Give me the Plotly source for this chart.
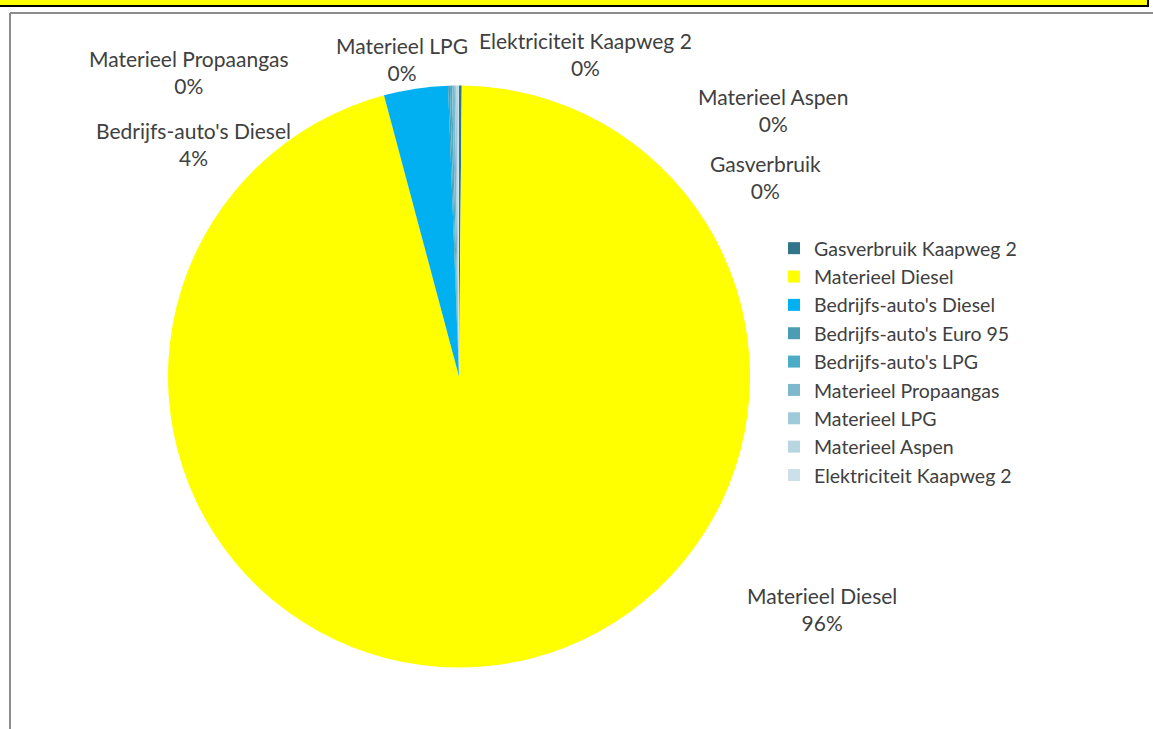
import plotly.graph_objects as go

# ---- data ----
categories = [
    "Gasverbruik Kaapweg 2",
    "Materieel Diesel",
    "Bedrijfs-auto's Diesel",
    "Bedrijfs-auto's Euro 95",
    "Bedrijfs-auto's LPG",
    "Materieel Propaangas",
    "Materieel LPG",
    "Materieel Aspen",
    "Elektriciteit Kaapweg 2",
]
values = [0.15, 95.70, 3.55, 0.10, 0.12, 0.15, 0.10, 0.07, 0.06]
colors = ["#31758A", "#FFFF00", "#00B0F0", "#4A9DB2", "#4BACC6",
          "#7DB8CE", "#9FCADA", "#B7D6E2", "#CCE0EA"]

# data label text shown next to the pie (Excel-style label), None = hidden
label_names = ["Gasverbruik", "Materieel Diesel", "Bedrijfs-auto's Diesel", None, None,
               "Materieel Propaangas", "Materieel LPG", "Materieel Aspen",
               "Elektriciteit Kaapweg 2"]

# label centres in pixels (x, y of first line)
label_pos = [(765, 163), (822, 595), (193, 131), None, None,
             (189, 58), (402, 45), (773, 96), (585, 41)]

W, H = 1153, 729
TXT = "#404040"
FONT = "Lato"

total = sum(values)

fig = go.Figure()
cx, cy, r = 459, 376.5, 291
fig.add_trace(go.Pie(
    labels=categories,
    values=values,
    sort=False,
    direction="clockwise",
    rotation=0,
    marker=dict(colors=colors, line=dict(width=0)),
    textinfo="none",
    hoverinfo="label+percent",
    domain=dict(x=[(cx - r) / W, (cx + r) / W], y=[(H - cy - r) / H, (H - cy + r) / H]),
    showlegend=True,
))

annotations = []
for name, v, pos in zip(label_names, values, label_pos):
    if name is None:
        continue
    pct = f"{round(v / total * 100):.0f}%"
    x, y = pos
    annotations.append(dict(
        x=x / W, y=1 - (y + 13.5) / H, xref="paper", yref="paper",
        text=f"{name}<br>{pct}", showarrow=False, align="center",
        xanchor="center", yanchor="middle",
        font=dict(family=FONT, size=21, color=TXT),
    ))

shapes = [
    # cut-off yellow title box at the top
    dict(type="rect", xref="paper", yref="paper", x0=-0.01, x1=1148 / W,
         y0=1 - 6 / H, y1=1.01, fillcolor="#FFFF00", line=dict(color="black", width=2)),
    # chart frame
    dict(type="line", xref="paper", yref="paper", x0=10 / W, x1=1.01,
         y0=1 - 13 / H, y1=1 - 13 / H, line=dict(color="#8C8C8C", width=2)),
    dict(type="line", xref="paper", yref="paper", x0=10 / W, x1=10 / W,
         y0=-0.01, y1=1 - 13 / H, line=dict(color="#8C8C8C", width=2)),
]

fig.update_layout(
    width=W, height=H,
    margin=dict(l=0, r=0, t=0, b=0),
    paper_bgcolor="white", plot_bgcolor="white",
    annotations=annotations,
    shapes=shapes,
    legend=dict(
        x=774 / W, y=1 - 229 / H, xanchor="left", yanchor="top",
        font=dict(family=FONT, size=19.5, color=TXT),
        itemclick=False, itemdoubleclick=False,
        bgcolor="rgba(0,0,0,0)",
    ),
    font=dict(family=FONT, color=TXT),
)

fig.write_html(
    "out.html",
    config={"displayModeBar": False},
    post_script="document.body.style.margin='0';document.body.style.overflow='hidden';",
)
